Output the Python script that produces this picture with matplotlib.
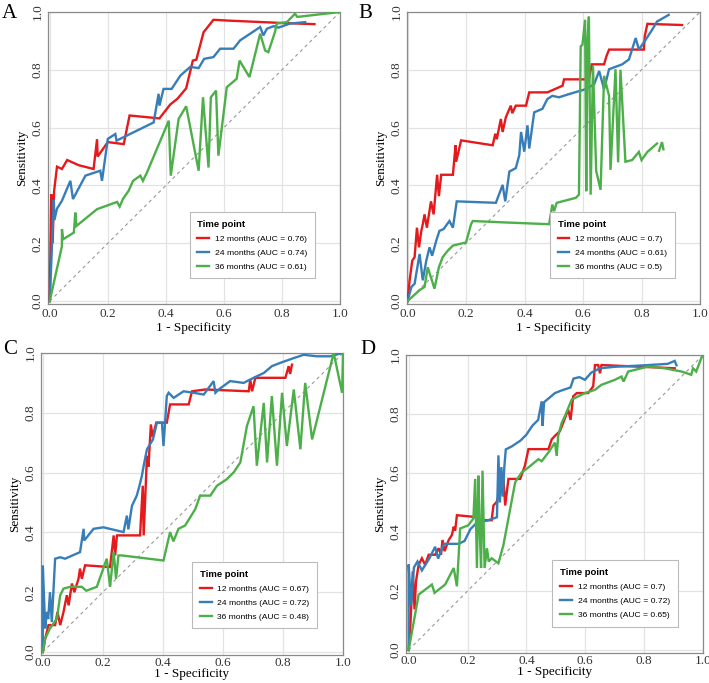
import numpy as np
import matplotlib.pyplot as plt

# ROC points as (1 - specificity, sensitivity)
A_12 = [(0, 0), (0.005, 0.37), (0.01, 0.2), (0.015, 0.38), (0.025, 0.465), (0.042, 0.457),
        (0.06, 0.488), (0.1, 0.47), (0.151, 0.457), (0.163, 0.56), (0.165, 0.5), (0.2, 0.55),
        (0.255, 0.543), (0.275, 0.642), (0.378, 0.632), (0.415, 0.68), (0.44, 0.7), (0.47, 0.736),
        (0.493, 0.832), (0.505, 0.835), (0.53, 0.93), (0.564, 0.973), (0.62, 0.97), (0.8, 0.962),
        (0.912, 0.958)]
A_24 = [(0, 0), (0.014, 0.35), (0.016, 0.28), (0.025, 0.32), (0.042, 0.347), (0.071, 0.416),
        (0.08, 0.353), (0.123, 0.434), (0.174, 0.451), (0.18, 0.416), (0.2, 0.561), (0.226, 0.578),
        (0.23, 0.555), (0.358, 0.618), (0.375, 0.717), (0.378, 0.676), (0.392, 0.734), (0.42, 0.734),
        (0.45, 0.78), (0.484, 0.81), (0.513, 0.806), (0.532, 0.838), (0.564, 0.844), (0.587, 0.873),
        (0.633, 0.873), (0.656, 0.902), (0.725, 0.948), (0.736, 0.919), (0.748, 0.942), (0.771, 0.951),
        (0.788, 0.946), (0.828, 0.96), (0.88, 0.965)]
A_36 = [(0, 0), (0.042, 0.19), (0.042, 0.249), (0.046, 0.214), (0.083, 0.237), (0.088, 0.306),
        (0.092, 0.26), (0.163, 0.318), (0.232, 0.343), (0.241, 0.327), (0.252, 0.353), (0.272, 0.382),
        (0.287, 0.416), (0.312, 0.434), (0.321, 0.416), (0.335, 0.445), (0.41, 0.624), (0.417, 0.434),
        (0.444, 0.63), (0.47, 0.674), (0.513, 0.451), (0.528, 0.705), (0.547, 0.462), (0.555, 0.705),
        (0.573, 0.728), (0.581, 0.503), (0.61, 0.74), (0.644, 0.769), (0.654, 0.832), (0.688, 0.775),
        (0.725, 0.925), (0.742, 0.867), (0.753, 0.861), (0.776, 0.931), (0.782, 0.96), (0.817, 0.965),
        (0.845, 0.994), (0.853, 0.983), (1.0, 1.0)]

B_12 = [(0, 0), (0.007, 0.072), (0.016, 0.14), (0.024, 0.152), (0.032, 0.254), (0.039, 0.186),
        (0.047, 0.243), (0.052, 0.266), (0.058, 0.3), (0.066, 0.254), (0.08, 0.345), (0.089, 0.3),
        (0.101, 0.437), (0.107, 0.363), (0.115, 0.437), (0.155, 0.437), (0.164, 0.539), (0.166, 0.482),
        (0.183, 0.556), (0.291, 0.539), (0.3, 0.579), (0.305, 0.56), (0.319, 0.63), (0.325, 0.585),
        (0.336, 0.636), (0.353, 0.676), (0.358, 0.65), (0.37, 0.676), (0.405, 0.676), (0.416, 0.722),
        (0.478, 0.722), (0.53, 0.745), (0.535, 0.767), (0.62, 0.767), (0.63, 0.819), (0.672, 0.819),
        (0.68, 0.847), (0.689, 0.87), (0.808, 0.87), (0.811, 0.916), (0.82, 0.959), (0.939, 0.955)]
B_24 = [(0, 0), (0.013, 0.049), (0.024, 0.06), (0.041, 0.163), (0.052, 0.072), (0.064, 0.14),
        (0.075, 0.186), (0.084, 0.157), (0.098, 0.209), (0.109, 0.243), (0.123, 0.249), (0.143, 0.277),
        (0.155, 0.254), (0.168, 0.345), (0.302, 0.34), (0.325, 0.402), (0.334, 0.345), (0.348, 0.448),
        (0.37, 0.46), (0.382, 0.505), (0.388, 0.585), (0.399, 0.517), (0.41, 0.608), (0.416, 0.528),
        (0.433, 0.653), (0.461, 0.665), (0.478, 0.699), (0.495, 0.71), (0.518, 0.705), (0.552, 0.716),
        (0.609, 0.733), (0.638, 0.75), (0.655, 0.796), (0.672, 0.733), (0.689, 0.802), (0.734, 0.819),
        (0.757, 0.836), (0.78, 0.91), (0.791, 0.87), (0.814, 0.904), (0.836, 0.938), (0.853, 0.967),
        (0.893, 0.99)]
B_36 = [(0, 0), (0.041, 0.038), (0.058, 0.049), (0.069, 0.117), (0.092, 0.043), (0.107, 0.117),
        (0.12, 0.152), (0.137, 0.174), (0.155, 0.192), (0.2, 0.203), (0.217, 0.266), (0.223, 0.277),
        (0.336, 0.272), (0.484, 0.266), (0.495, 0.334), (0.501, 0.311), (0.51, 0.34), (0.575, 0.357),
        (0.586, 0.368), (0.592, 0.881), (0.598, 0.887), (0.607, 0.973), (0.611, 0.38), (0.615, 0.9),
        (0.62, 0.984), (0.626, 0.368), (0.634, 0.813), (0.645, 0.45), (0.66, 0.385), (0.672, 0.779),
        (0.689, 0.71), (0.694, 0.454), (0.711, 0.802), (0.72, 0.48), (0.728, 0.8), (0.745, 0.482),
        (0.768, 0.488), (0.791, 0.516), (0.8, 0.488), (0.82, 0.516), (0.853, 0.545), (np.nan, np.nan),
        (0.86, 0.52), (0.87, 0.55), (0.875, 0.525)]

C_12 = [(0, 0), (0.008, 0.045), (0.019, 0.09), (0.041, 0.09), (0.049, 0.134), (0.058, 0.09),
        (0.069, 0.134), (0.08, 0.19), (0.086, 0.156), (0.097, 0.229), (0.105, 0.2), (0.119, 0.245),
        (0.124, 0.279), (0.13, 0.245), (0.141, 0.29), (0.224, 0.284), (0.236, 0.39), (0.241, 0.323),
        (0.247, 0.39), (0.324, 0.39), (0.333, 0.556), (0.336, 0.39), (0.347, 0.656), (0.352, 0.62),
        (0.36, 0.761), (0.366, 0.72), (0.378, 0.767), (0.413, 0.767), (0.424, 0.828), (0.486, 0.828),
        (0.497, 0.872), (0.541, 0.878), (0.686, 0.872), (0.691, 0.911), (0.697, 0.872), (0.708, 0.917),
        (0.808, 0.917), (0.819, 0.956), (0.824, 0.93), (0.83, 0.961)]
C_24 = [(0, 0), (0, 0.29), (0.008, 0.079), (0.013, 0.134), (0.018, 0.11), (0.024, 0.2),
        (0.03, 0.1), (0.041, 0.312), (0.058, 0.317), (0.074, 0.312), (0.124, 0.334), (0.136, 0.412),
        (0.138, 0.373), (0.169, 0.412), (0.202, 0.417), (0.269, 0.401), (0.28, 0.456), (0.285, 0.41),
        (0.297, 0.489), (0.313, 0.523), (0.322, 0.556), (0.33, 0.589), (0.336, 0.623), (0.347, 0.678),
        (0.367, 0.711), (0.38, 0.767), (0.397, 0.767), (0.402, 0.689), (0.408, 0.778), (0.413, 0.856),
        (0.419, 0.867), (0.436, 0.85), (0.469, 0.872), (0.502, 0.867), (0.536, 0.861), (0.569, 0.906),
        (0.575, 0.867), (0.586, 0.878), (0.624, 0.906), (0.669, 0.9), (0.702, 0.917), (0.736, 0.933),
        (0.763, 0.956), (0.791, 0.967), (0.836, 0.983), (0.869, 0.994), (0.913, 0.989), (0.958, 0.989),
        (0.997, 1.0)]
C_36 = [(0, 0), (0.008, 0.045), (0.024, 0.079), (0.047, 0.112), (0.058, 0.19), (0.069, 0.212),
        (0.091, 0.218), (0.13, 0.218), (0.145, 0.205), (0.18, 0.218), (0.213, 0.312), (0.224, 0.218),
        (0.236, 0.334), (0.244, 0.245), (0.252, 0.323), (0.263, 0.323), (0.402, 0.306), (0.424, 0.401),
        (0.435, 0.37), (0.452, 0.412), (0.474, 0.423), (0.508, 0.478), (0.524, 0.523), (0.558, 0.523),
        (0.58, 0.556), (0.613, 0.578), (0.636, 0.601), (0.658, 0.634), (0.68, 0.756), (0.702, 0.822),
        (0.713, 0.623), (0.736, 0.833), (0.747, 0.634), (0.763, 0.856), (0.78, 0.623), (0.797, 0.867),
        (0.813, 0.689), (0.836, 0.878), (0.858, 0.678), (0.874, 0.9), (0.897, 0.711), (0.969, 1.0),
        (0.997, 0.867), (1.0, 1.0)]

D_12 = [(0, 0), (0.006, 0.087), (0.014, 0.267), (0.02, 0.138), (0.025, 0.233), (0.034, 0.289),
        (0.045, 0.311), (0.056, 0.289), (0.068, 0.323), (0.09, 0.323), (0.102, 0.345), (0.11, 0.323),
        (0.115, 0.373), (0.122, 0.335), (0.136, 0.373), (0.147, 0.39), (0.153, 0.418), (0.158, 0.405),
        (0.164, 0.457), (0.226, 0.451), (0.243, 0.44), (0.282, 0.44), (0.288, 0.49), (0.299, 0.502),
        (0.322, 0.58), (0.328, 0.49), (0.339, 0.58), (0.379, 0.58), (0.395, 0.625), (0.407, 0.681),
        (0.475, 0.681), (0.486, 0.714), (0.497, 0.726), (0.514, 0.742), (0.525, 0.77), (0.542, 0.815),
        (0.55, 0.78), (0.559, 0.86), (0.571, 0.871), (0.61, 0.871), (0.627, 0.894), (0.633, 0.966),
        (0.644, 0.966), (0.65, 0.938), (0.655, 0.966), (0.904, 0.955)]
D_24 = [(0, 0), (0, 0.29), (0.008, 0.15), (0.018, 0.28), (0.03, 0.3), (0.045, 0.27), (0.07, 0.31),
        (0.09, 0.35), (0.1, 0.31), (0.12, 0.36), (0.17, 0.36), (0.19, 0.37), (0.21, 0.41), (0.23, 0.43),
        (0.27, 0.44), (0.3, 0.45), (0.305, 0.66), (0.31, 0.5), (0.315, 0.62), (0.32, 0.52), (0.325, 0.62),
        (0.33, 0.68), (0.35, 0.69), (0.38, 0.71), (0.4, 0.73), (0.42, 0.76), (0.44, 0.78), (0.452, 0.843),
        (0.455, 0.76), (0.46, 0.84), (0.497, 0.871), (0.52, 0.88), (0.55, 0.89), (0.56, 0.92),
        (0.58, 0.925), (0.599, 0.916), (0.62, 0.94), (0.65, 0.955), (0.7, 0.96), (0.8, 0.965),
        (0.88, 0.97), (0.904, 0.98), (0.91, 0.965)]
D_36 = [(0, 0), (0.034, 0.188), (0.079, 0.222), (0.088, 0.194), (0.124, 0.222), (0.153, 0.278),
        (0.164, 0.216), (0.175, 0.412), (0.203, 0.423), (0.22, 0.446), (0.226, 0.58), (0.232, 0.278),
        (0.237, 0.591), (0.241, 0.42), (0.246, 0.278), (0.251, 0.608), (0.258, 0.278), (0.266, 0.345),
        (0.272, 0.3), (0.282, 0.311), (0.305, 0.294), (0.322, 0.356), (0.362, 0.569), (0.384, 0.602),
        (0.407, 0.619), (0.441, 0.647), (0.452, 0.64), (0.475, 0.67), (0.497, 0.703), (0.503, 0.658),
        (0.508, 0.726), (0.52, 0.77), (0.531, 0.793), (0.554, 0.849), (0.599, 0.871), (0.633, 0.882),
        (0.655, 0.899), (0.701, 0.916), (0.723, 0.927), (0.73, 0.91), (0.746, 0.944), (0.814, 0.961),
        (0.87, 0.955), (0.927, 0.944), (0.96, 0.933), (0.966, 0.955), (0.977, 0.944), (0.994, 0.989),
        (1.0, 1.0)]

PANELS = ['A', 'B', 'C', 'D']
CURVES = {
    'A': (A_12, A_24, A_36),
    'B': (B_12, B_24, B_36),
    'C': (C_12, C_24, C_36),
    'D': (D_12, D_24, D_36),
}
AUC = {
    'A': ('0.76', '0.74', '0.61'),
    'B': ('0.7', '0.61', '0.5'),
    'C': ('0.67', '0.72', '0.48'),
    'D': ('0.7', '0.72', '0.65'),
}
MONTHS = ['12 months', '24 months', '36 months']
COLORS = ['#e41a1c', '#377eb8', '#4daf4a']

# axes boxes in pixels: left, right, top, bottom, x-axis start, tick pad, xlabel pad
W, H = 709, 683
BOXES = {
    'A': (48, 340, 12, 304, -0.006, 3, 1),
    'B': (407, 700, 12, 304, -0.002, 3, 1),
    'C': (41, 343, 353, 655, -0.006, 1.5, -0.5),
    'D': (406, 703, 355, 653, -0.009, 1.5, -0.5),
}
LETTER_POS = {'A': (2, 4), 'B': (358, 4), 'C': (3, 340), 'D': (360, 340)}

SERIF = ['Liberation Serif', 'DejaVu Serif']
SANS = ['Liberation Sans', 'DejaVu Sans']

fig = plt.figure(figsize=(W / 100, H / 100), dpi=100)

for p in PANELS:
    l, r, t, b, x0, tpad, xpad = BOXES[p]
    ax = fig.add_axes([l / W, 1 - b / H, (r - l) / W, (b - t) / H])
    ax.plot([0, 1], [0, 1], ls=(0, (3, 3)), color='#999999', lw=0.8, zorder=1)
    for pts, m, auc, c in zip(CURVES[p], MONTHS, AUC[p], COLORS):
        xy = np.array(pts, dtype=float)
        ax.plot(xy[:, 0], xy[:, 1], color=c, lw=1.7, solid_joinstyle='miter',
                label=f'{m} (AUC = {auc})', zorder=3)
    ax.set_xlim(x0, 1.0)
    ax.set_ylim(-0.01, 1.0)
    ticks = np.arange(0, 1.01, 0.2)
    ax.set_xticks(ticks)
    ax.set_yticks(ticks)
    ax.set_xticklabels([f'{v:.1f}' for v in ticks], family=SERIF, fontsize=9.5)
    ax.set_yticklabels([f'{v:.1f}' for v in ticks], family=SERIF, fontsize=9.5,
                       rotation=90, va='center')
    ax.tick_params(axis='x', length=0, pad=tpad, colors='#333333')
    ax.tick_params(axis='y', length=0, pad=3, colors='#333333')
    ax.grid(True, color='#e3e3e3', lw=0.9)
    ax.set_axisbelow(True)
    for s in ax.spines.values():
        s.set_color('#8a8a8a')
        s.set_linewidth(0.9)
    ax.set_xlabel('1 - Specificity', family=SERIF, fontsize=9.5, labelpad=xpad)
    ax.set_ylabel('Sensitivity', family=SERIF, fontsize=9.5, labelpad=3)

    leg = ax.legend(loc='lower right', bbox_to_anchor=(0.915, 0.088), borderaxespad=0,
                    title='Time point', prop={'family': SANS, 'size': 6.1},
                    fancybox=False, frameon=True, edgecolor='#bbbbbb', framealpha=1,
                    handlelength=1.4, borderpad=0.9, labelspacing=0.72, handletextpad=0.7,
                    alignment='left')
    leg.get_title().set_fontproperties({'family': SANS, 'size': 6.8, 'weight': 'bold'})
    leg.get_frame().set_linewidth(0.8)
    for h in leg.get_lines():
        h.set_linewidth(1.7)

    lx, ly = LETTER_POS[p]
    fig.text(lx / W, 1 - ly / H, p, family=SERIF, fontsize=15, va='top', ha='left')

fig.savefig('out.png', dpi=100)
